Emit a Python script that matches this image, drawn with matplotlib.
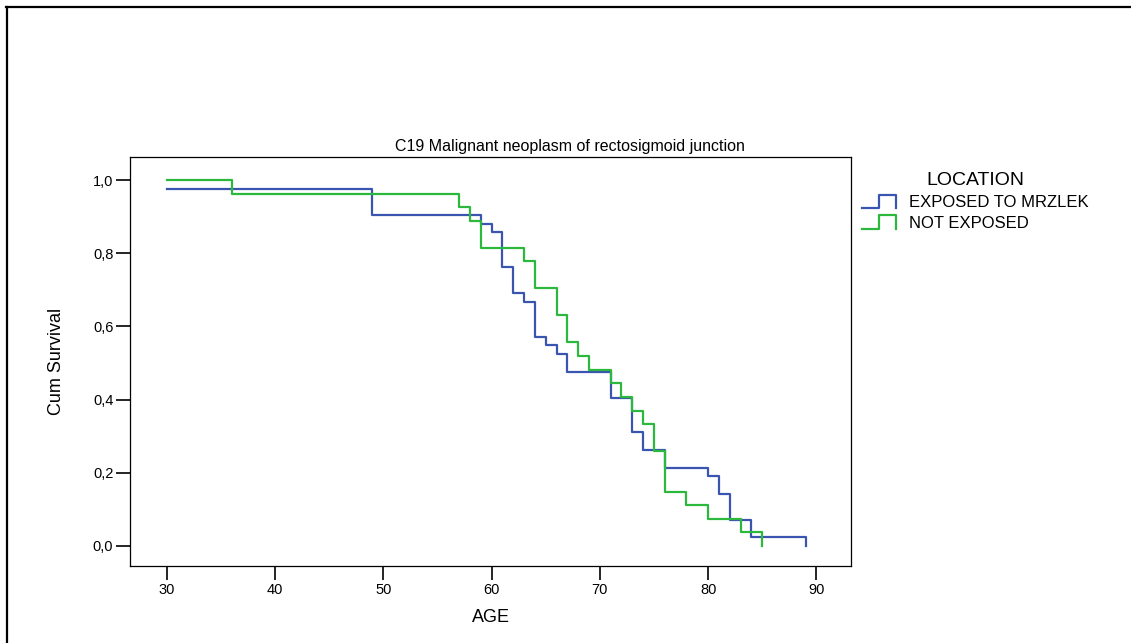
import matplotlib
matplotlib.use("Agg")
import matplotlib.pyplot as plt
from matplotlib.lines import Line2D
from matplotlib.legend_handler import HandlerBase
from matplotlib import font_manager

# Kaplan-Meier survival by age, two exposure groups
exposed_age = [30, 49, 59, 60, 61, 62, 63, 64, 65, 66, 67, 71, 73, 74, 76, 80, 81, 82, 84, 89]
exposed_surv = [0.976, 0.905, 0.881, 0.857, 0.762, 0.690, 0.667, 0.571, 0.548, 0.524,
                0.476, 0.405, 0.310, 0.262, 0.214, 0.190, 0.143, 0.071, 0.024, 0.0]
not_exposed_age = [30, 36, 57, 58, 59, 63, 64, 66, 67, 68, 69, 71, 72, 73, 74, 75, 76, 78, 80, 83, 85]
not_exposed_surv = [1.0, 0.963, 0.926, 0.889, 0.815, 0.778, 0.704, 0.630, 0.556, 0.519,
                    0.481, 0.444, 0.407, 0.370, 0.333, 0.259, 0.148, 0.111, 0.074, 0.037, 0.0]

group_labels = ["EXPOSED TO MRZLEK", "NOT EXPOSED"]
group_colors = ["#3a55b0", "#2cb83c"]
x_ticks = [30, 40, 50, 60, 70, 80, 90]
y_ticks = [0.0, 0.2, 0.4, 0.6, 0.8, 1.0]

names = {f.name for f in font_manager.fontManager.ttflist}
regular = "Liberation Sans" if "Liberation Sans" in names else "DejaVu Sans"
plt.rcParams['font.family'] = [regular, 'DejaVu Sans']

W, H = 1131, 643
fig = plt.figure(figsize=(W / 100, H / 100), dpi=100)
fig.patch.set_facecolor('white')

# outer frame: top and left edges only
fig.add_artist(Line2D([7 / W, 7 / W], [0, 1 - 6.5 / H], color='black', lw=1.6,
                      transform=fig.transFigure))
fig.add_artist(Line2D([6 / W, 1], [1 - 6.5 / H, 1 - 6.5 / H], color='black', lw=1.6,
                      transform=fig.transFigure))

ax = fig.add_axes([130 / W, 1 - 566 / H, 721 / W, 409 / H])
ax.step(exposed_age, exposed_surv, where='post', color=group_colors[0], lw=1.6)
ax.step(not_exposed_age, not_exposed_surv, where='post', color=group_colors[1], lw=1.6)

ax.set_xlim(26.6, 93.2)
ax.set_ylim(-0.055, 1.063)
ax.set_xticks(x_ticks)
ax.set_xticklabels([str(t) for t in x_ticks], fontsize=10.5)
ax.set_yticks(y_ticks)
ax.set_yticklabels([f"{t:.1f}".replace('.', ',') for t in y_ticks], fontsize=10.5)
ax.tick_params(direction='out', length=10, width=1.2, color='black', pad=2)
for s in ax.spines.values():
    s.set_linewidth(0.9)

ax.set_xlabel("AGE", fontsize=13, labelpad=9)
ax.set_ylabel("Cum Survival", fontsize=13, labelpad=20)
# title sits centred on the page rather than on the axes
ax.set_title("C19 Malignant neoplasm of rectosigmoid junction", fontsize=11.5,
             x=(570 - 130) / 721, pad=4)


class StepHandler(HandlerBase):
    def create_artists(self, legend, orig_handle, xdescent, ydescent,
                       width, height, fontsize, trans):
        x0, y0 = -xdescent, -ydescent
        xm = x0 + 0.5 * width
        xs = [x0, xm, xm, x0 + width, x0 + width]
        ys = [y0, y0, y0 + height, y0 + height, y0]
        line = Line2D(xs, ys, color=orig_handle.get_color(), lw=1.6, transform=trans)
        return [line]


handles = [Line2D([], [], color=c) for c in group_colors]
leg = fig.legend(handles, group_labels, loc='upper left',
                 bbox_to_anchor=(862 / W, 1 - 172 / H), bbox_transform=fig.transFigure,
                 frameon=False, fontsize=12, title="LOCATION", title_fontsize=14,
                 handler_map={Line2D: StepHandler()}, handlelength=2.05, handleheight=0.85,
                 handletextpad=0.78, labelspacing=0.33, borderpad=0, borderaxespad=0)

fig.savefig("out.png", dpi=100)
